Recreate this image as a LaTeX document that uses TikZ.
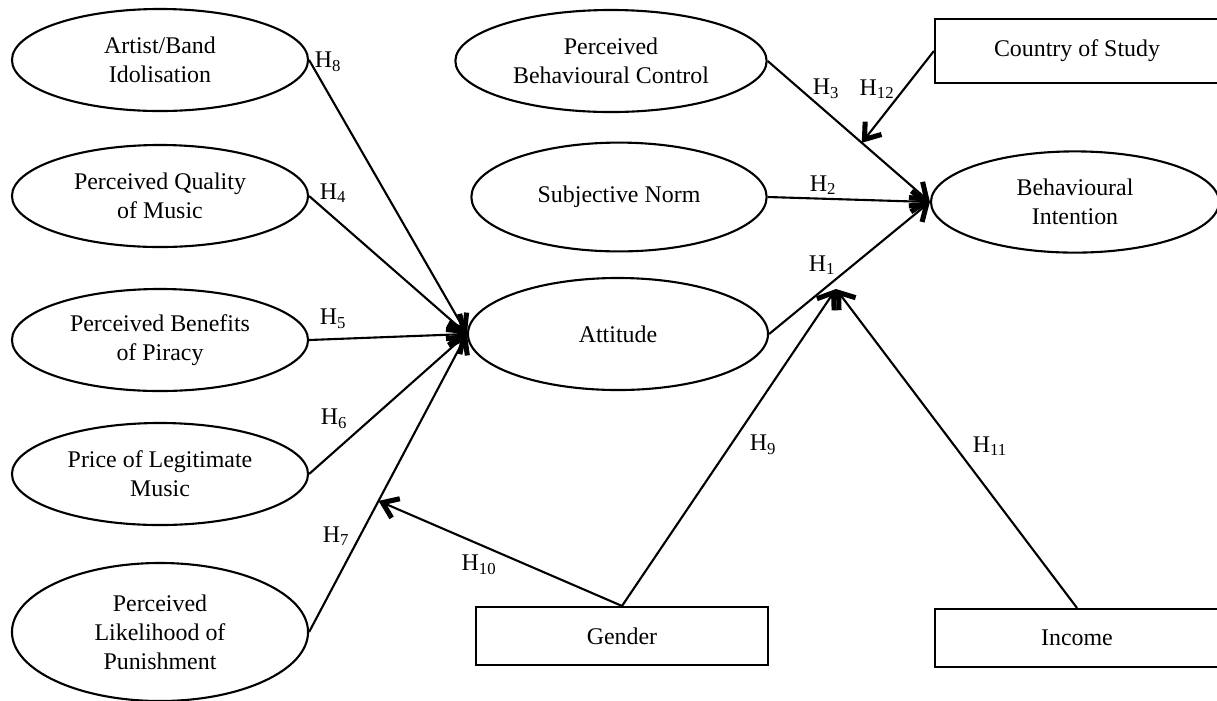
\documentclass[tikz,border=0pt]{standalone}
\usepackage{fontspec}
\setmainfont{Liberation Serif}
\usetikzlibrary{shapes.geometric}
\usetikzlibrary{arrows.meta}

\tikzset{
	txt/.style={font=\fontsize{17}{20.5}\selectfont},
	construct/.style={txt, draw, ellipse, line width=1.5pt, inner sep=0pt, align=center},
	varbox/.style={txt, draw, rectangle, line width=1.5pt, inner sep=0pt, align=center},
	link/.style={line width=1.5pt, -{Straight Barb[length=3.6mm, width=5.2mm, line width=3.6pt]}}
}

\newcommand{\hyp}[3] % x in px, y in px, index
{
	\node[txt, inner sep=0pt] (h#3) at (#1,#2) {H\textsubscript{#3}};
}

\begin{document}
\begin{tikzpicture}[x=0.025cm, y=-0.025cm]
	% 1217 x 700 px, y down
	\useasboundingbox (0,0) rectangle (1217,700);

	% antecedents of attitude
	\node[construct, minimum width=7.4cm, minimum height=2.55cm] (idol) at (160,60) {Artist/Band\\Idolisation};
	\node[construct, minimum width=7.4cm, minimum height=2.55cm] (qual) at (160,196) {Perceived Quality\\of Music};
	\node[construct, minimum width=7.4cm, minimum height=2.55cm] (bene) at (160,340) {Perceived Benefits\\of Piracy};
	\node[construct, minimum width=7.4cm, minimum height=2.55cm] (price) at (160,474) {Price of Legitimate\\Music};
	\node[construct, minimum width=7.4cm, minimum height=3.45cm] (puni) at (160,632) {Perceived\\Likelihood of\\Punishment};

	% TPB constructs
	\node[construct, minimum width=7.78cm, minimum height=2.55cm] (pbc) at (611,61) {Perceived\\Behavioural Control};
	\node[construct, minimum width=7.38cm, minimum height=2.72cm] (norm) at (619,197) {Subjective Norm};
	\node[construct, minimum width=7.5cm, minimum height=2.8cm] (att) at (618,334) {Attitude};
	\node[construct, minimum width=7.2cm, minimum height=2.53cm] (bi) at (1075,202) {Behavioural\\Intention};

	% moderators
	\node[varbox, minimum width=7.1cm, minimum height=1.6cm] (country) at (1077,51) {Country of Study};
	\node[varbox, minimum width=7.3cm, minimum height=1.45cm] (gender) at (622,636) {Gender};
	\node[varbox, minimum width=7.1cm, minimum height=1.45cm] (income) at (1077,638) {Income};

	% main paths
	\draw[link] (idol.east) -- (att.west);
	\draw[link] (qual.east) -- (att.west);
	\draw[link] (bene.east) -- (att.west);
	\draw[link] (price.east) -- (att.west);
	\draw[link] (puni.east) -- (att.west);
	\draw[link] (pbc.east) -- (bi.west);
	\draw[link] (norm.east) -- (bi.west);
	\draw[link] (att.east) -- (bi.west);

	% moderating paths
	\path (pbc.east) -- coordinate[pos=0.58] (m12) (bi.west);
	\path (puni.east) -- coordinate[pos=0.44] (m10) (att.west);
	\coordinate (m9) at (836,289);
	\draw[link] (country.west) -- (m12);
	\draw[link] (gender.north) -- (m10);
	\draw[link] (gender.north) -- (m9);
	\draw[link] (income.north) -- (m9);

	% hypotheses
	\hyp{328}{62}{8};
	\hyp{333}{193}{4};
	\hyp{333}{319}{5};
	\hyp{334}{419}{6};
	\hyp{336}{536}{7};
	\hyp{826}{89}{3};
	\hyp{877}{89}{12};
	\hyp{823}{185}{2};
	\hyp{822}{265}{1};
	\hyp{763}{445}{9};
	\hyp{990}{446}{11};
	\hyp{479}{565}{10};
\end{tikzpicture}
\end{document}
